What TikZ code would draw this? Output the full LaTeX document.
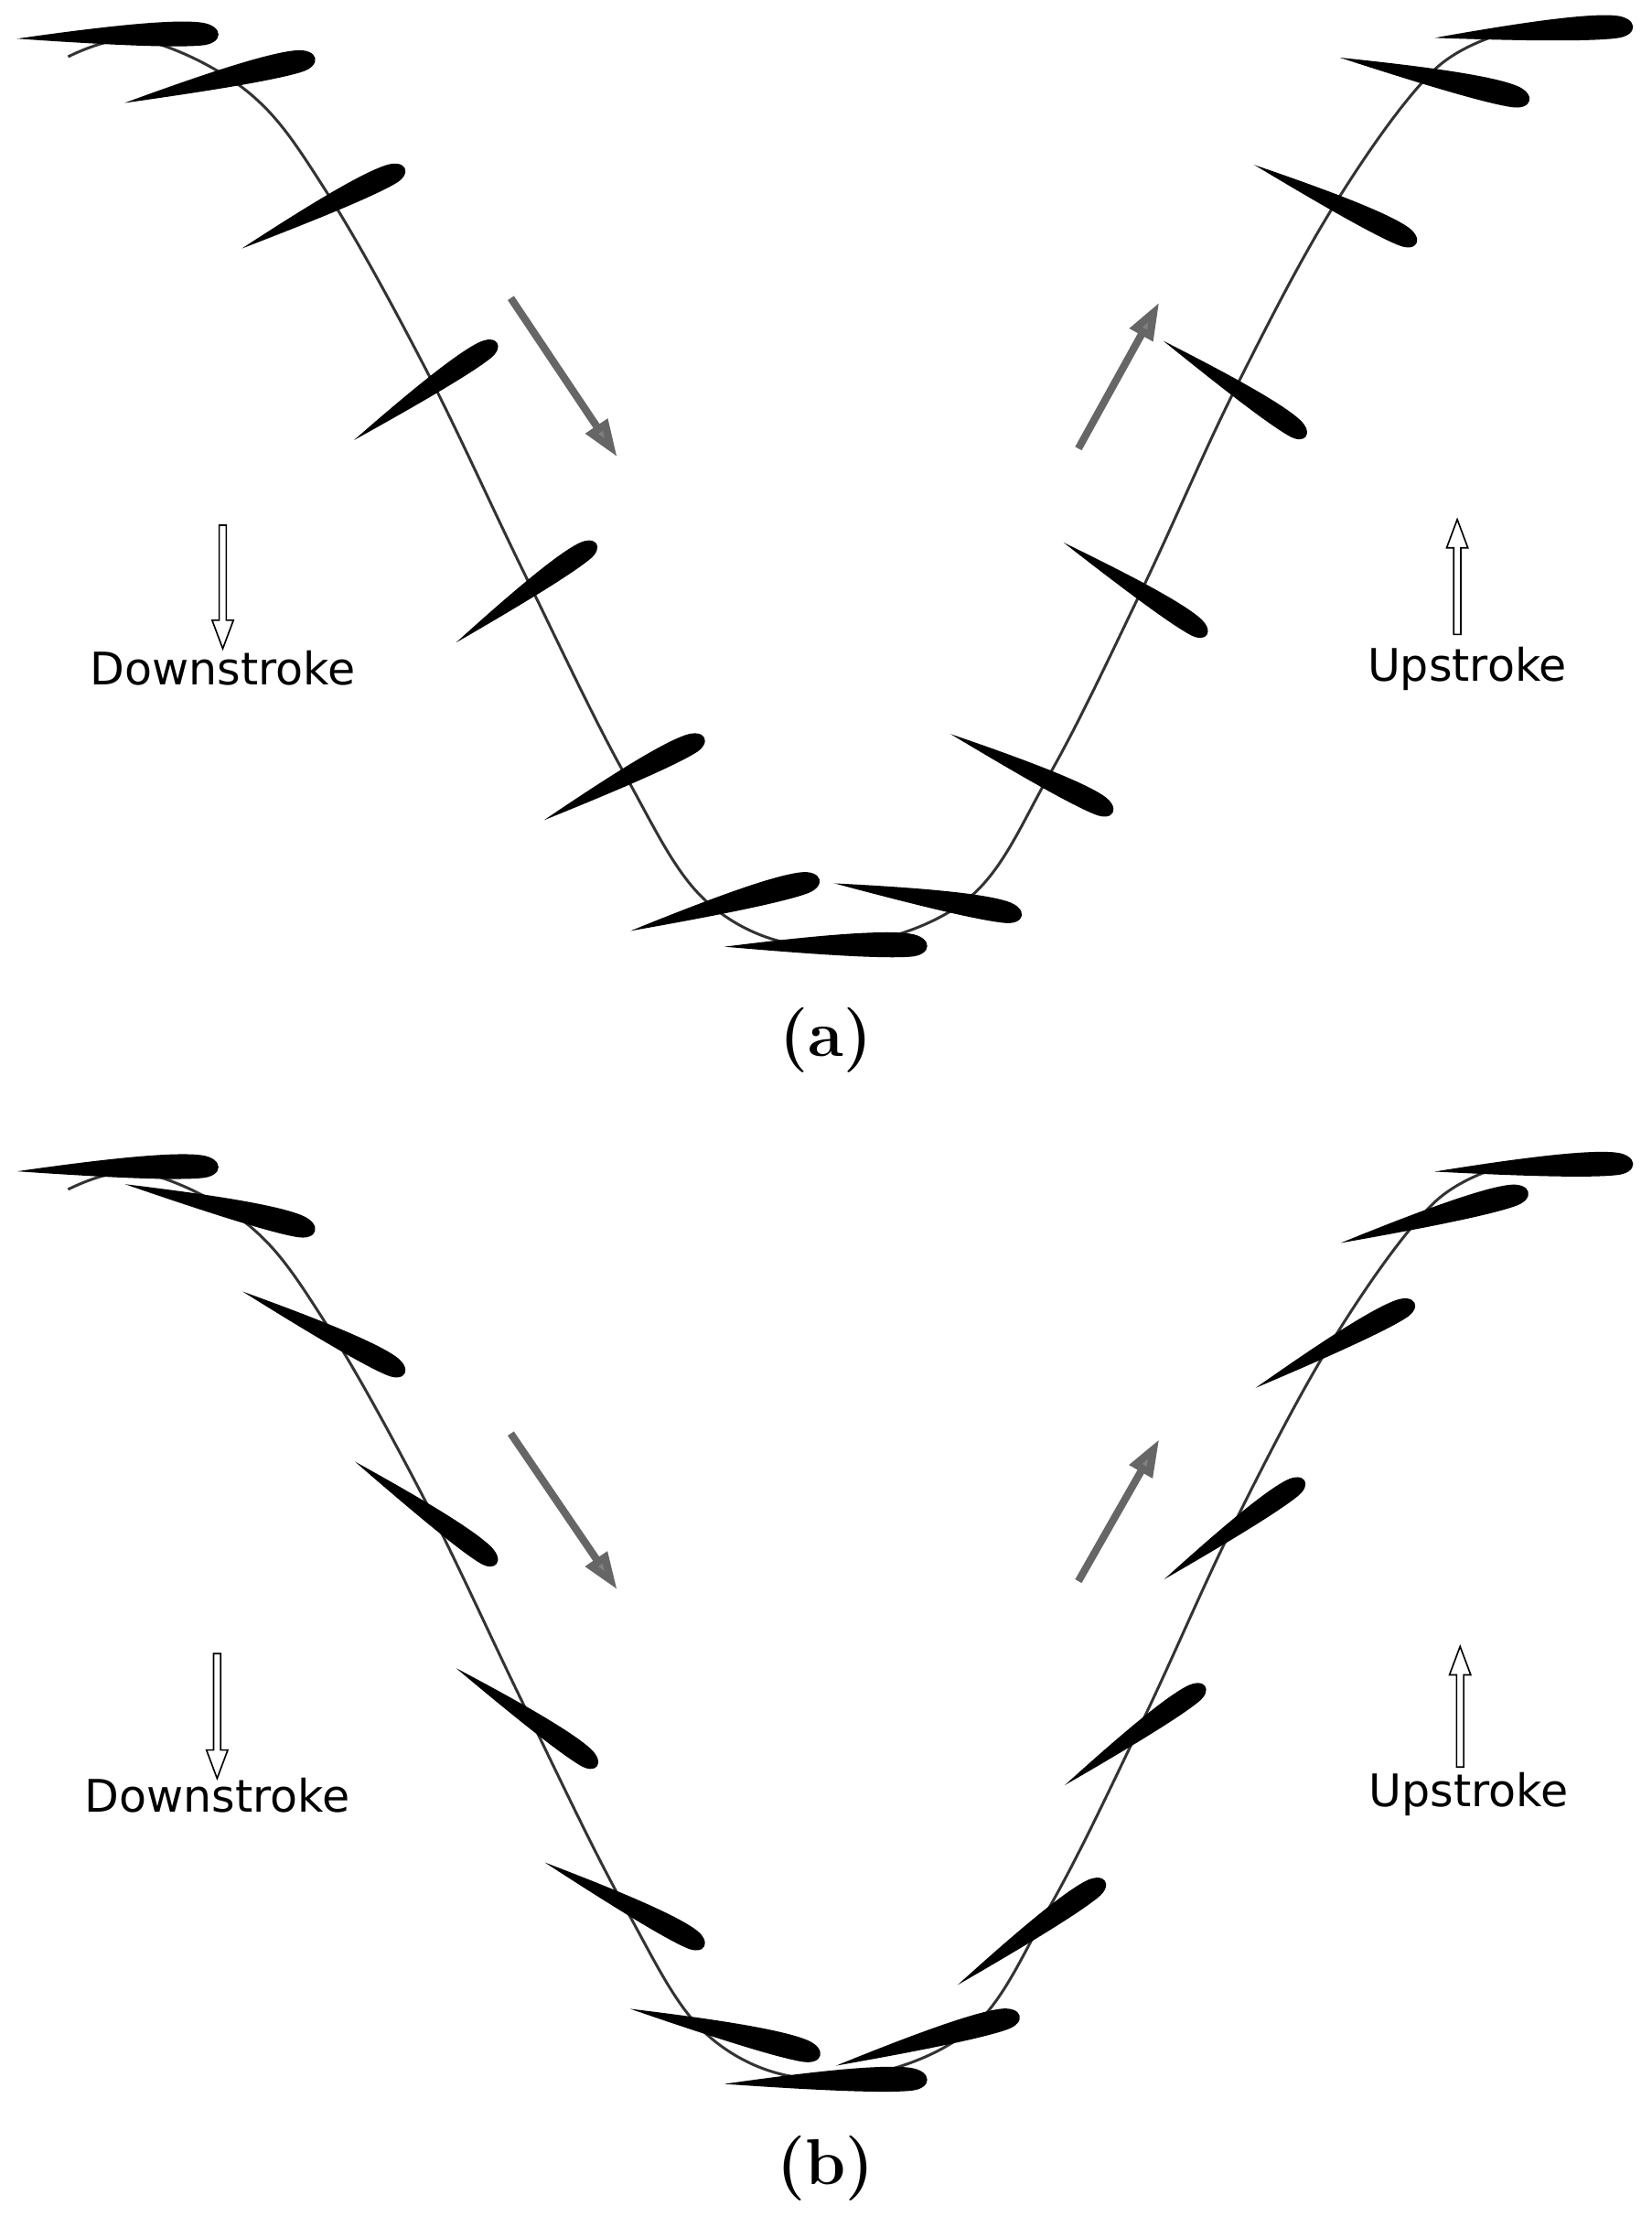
\documentclass[tikz,border=0pt]{standalone}
\usepackage{fontspec}
\newfontfamily\lab{DejaVu Sans}
\usetikzlibrary{arrows.meta}
\newcommand{\foil}[4]{\fill[black,shift={(#1,#2)},rotate=-#3,scale=#4]
 (-0.5,0) .. controls (-0.1,-0.05) and (0.26,-0.085) .. (0.41,-0.065)
 .. controls (0.53,-0.05) and (0.53,0.045) .. (0.41,0.05)
 .. controls (0.26,0.06) and (-0.1,0.035) .. (-0.5,0) -- cycle;}
\newcommand{\openarrow}[4]{% x, ystart, yend(tip), dir(+1 down,-1 up)
 \draw[black,line width=0.6pt,fill=white] (#1-2.5,#2) -- (#1-2.5,#3-#4*20) -- (#1-7.5,#3-#4*20) -- (#1,#3) -- (#1+7.5,#3-#4*20) -- (#1+2.5,#3-#4*20) -- (#1+2.5,#2) -- cycle;}
\tikzset{stroke/.style={line width=1.1pt,black!80},
 garrow/.style={line width=3pt,gray!80!black,-{Triangle[length=15pt,width=10pt,fill=gray]}},
 lbl/.style={font=\lab\fontsize{18}{21}\selectfont},
 captxt/.style={font=\fontsize{26}{30}\selectfont\bfseries}}
\begin{document}
\begin{tikzpicture}[x=0.02cm,y=-0.02cm]
\useasboundingbox (0,0) rectangle (1164,1562);
\foreach \dy/\k in {0/a,798/b}{
 \draw[stroke] plot[smooth,tension=0.6] coordinates {(48,40+\dy) (100,28+\dy) (175,65+\dy) (230,135+\dy) (300,260+\dy) (370,405+\dy) (440,545+\dy) (500,637+\dy) (582,667+\dy) (680,635+\dy) (740,545+\dy) (805,415+\dy) (870,275+\dy) (940,145+\dy) (1010,50+\dy) (1065,22+\dy)};
}
% (a)
\foil{83}{26}{-1}{142}
\foil{155}{57}{-13}{138}
\foil{228}{147}{-26}{128}
\foil{300}{276}{-34}{122}
\foil{371}{418}{-35}{121}
\foil{440}{549}{-27}{127}
\foil{511}{638}{-15}{138}
\foil{582}{667}{0}{143}
\foil{654}{634}{10}{134}
\foil{727}{545}{26}{127}
\foil{800}{415}{33}{120}
\foil{870}{274}{34}{121}
\foil{941}{144}{26}{127}
\foil{1011}{56}{13}{137}
\foil{1081}{23}{-3}{140}
% (b)
\foil{83}{824}{-1}{142}
\foil{155}{851}{14}{138}
\foil{228}{939}{27}{128}
\foil{300}{1066}{36}{123}
\foil{371}{1210}{35}{121}
\foil{440}{1342}{28}{127}
\foil{511}{1432}{14}{138}
\foil{582}{1467}{-1}{143}
\foil{654}{1438}{-15}{134}
\foil{727}{1362}{-35}{127}
\foil{800}{1223}{-35}{121}
\foil{870}{1078}{-35}{121}
\foil{941}{948}{-28}{127}
\foil{1011}{858}{-15}{137}
\foil{1081}{823}{-2}{140}
% gray arrows
\coordinate (a1) at (360,210); \coordinate (a2) at (435,322);
\coordinate (a3) at (760,316); \coordinate (a4) at (817,213);
\coordinate (b1) at (360,1010); \coordinate (b2) at (435,1120);
\coordinate (b3) at (760,1114); \coordinate (b4) at (817,1014);
\draw[garrow] (a1) -- (a2); \draw[garrow] (a3) -- (a4);
\draw[garrow] (b1) -- (b2); \draw[garrow] (b3) -- (b4);
% open arrows
\openarrow{157}{370}{457}{1}
\openarrow{1027}{447}{366}{-1}
\openarrow{153}{1165}{1253}{1}
\openarrow{1029}{1245}{1160}{-1}
\node[lbl] (da) at (157,471) {Downstroke};
\node[lbl] (ua) at (1034,471) {Upstroke};
\node[lbl] (db) at (153,1265) {Downstroke};
\node[lbl] (ub) at (1035,1264) {Upstroke};
\node[captxt] (ca) at (582,733) {(a)};
\node[captxt] (cb) at (582,1528) {(b)};
\end{tikzpicture}
\end{document}
